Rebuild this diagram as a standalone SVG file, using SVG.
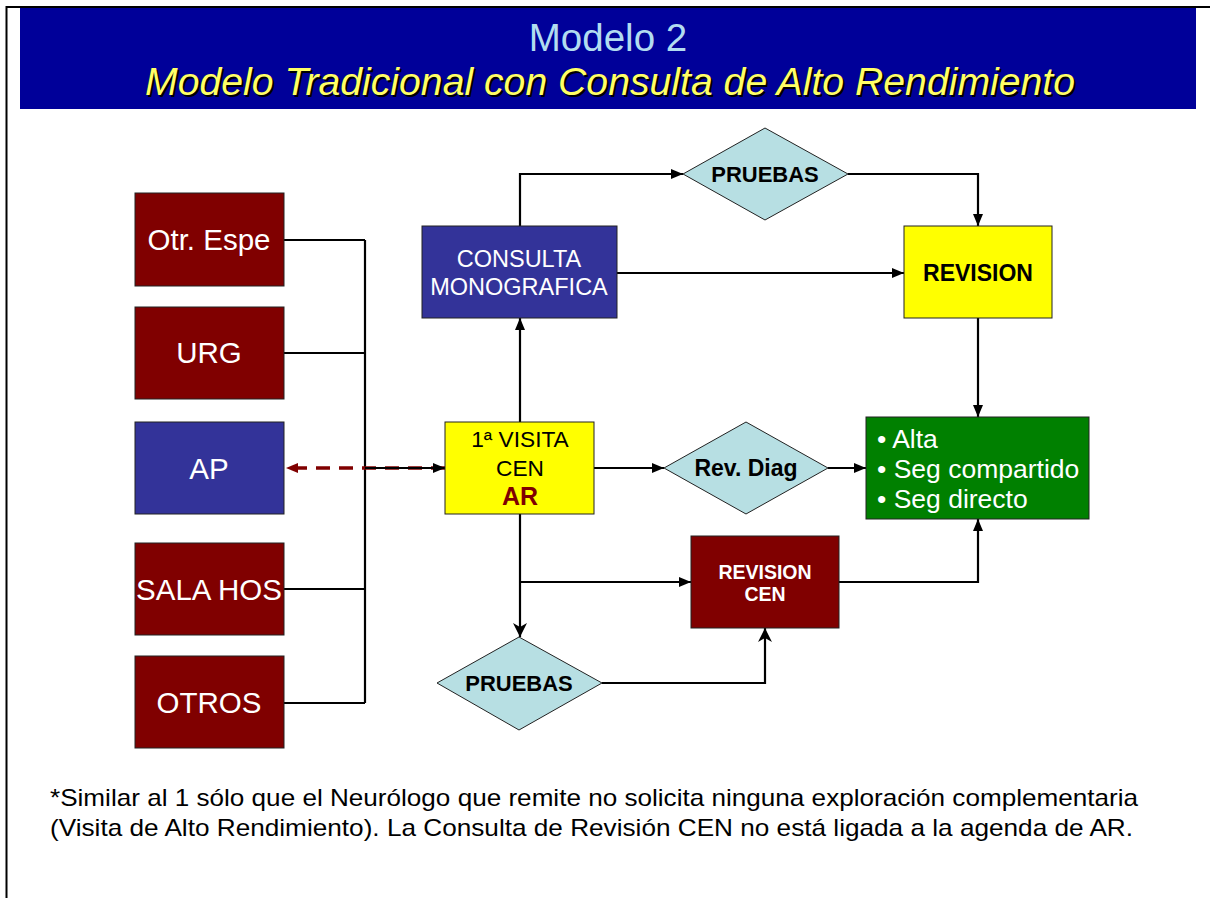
<svg xmlns="http://www.w3.org/2000/svg" width="1210" height="898" viewBox="0 0 1210 898">
<style>
text{font-family:"Liberation Sans",Arial,sans-serif}
.box{stroke:#222;stroke-width:1}
.mar{fill:#800000}
.blu{fill:#333399}
.yel{fill:#FFFF00}
.grn{fill:#008000}
.dia{fill:#B7DFE3;stroke:#222;stroke-width:1}
.wl{fill:#fff;font-size:29.5px;text-anchor:middle}
.wm{fill:#fff;font-size:23.5px;text-anchor:middle}
.bk{fill:#000;font-size:23px;font-weight:bold;text-anchor:middle}
.g{fill:#fff;font-size:26.5px}
.c{fill:none;stroke:#000;stroke-width:2.2}
.ca{fill:none;stroke:#000;stroke-width:2.2;marker-end:url(#ah)}
.cs{fill:none;stroke:#000;stroke-width:2.2;marker-end:url(#st)}
</style>
<defs>
<marker id="ah" markerUnits="userSpaceOnUse" markerWidth="12" markerHeight="10" refX="12" refY="5" orient="auto"><path d="M0,0 L12,5 L0,10 z" fill="#000"/></marker>
<marker id="st" markerUnits="userSpaceOnUse" markerWidth="14" markerHeight="14" refX="14" refY="7" orient="auto"><path d="M0,0 L14,7 L0,14 L4,7 z" fill="#000"/></marker>
<marker id="ar" markerUnits="userSpaceOnUse" markerWidth="12" markerHeight="10" refX="12" refY="5" orient="auto"><path d="M0,0 L12,5 L0,10 z" fill="#800000"/></marker>
</defs>
<rect width="1210" height="898" fill="#fff"/>
<path d="M6.5,898 V7 H1210" fill="none" stroke="#000" stroke-width="2"/>
<g id="header">
<rect x="20" y="8" width="1176" height="101" fill="#000099"/>
<text x="608" y="51" font-size="38.5" fill="#B2DCF0" text-anchor="middle">Modelo 2</text>
<text x="612" y="97" font-size="39" font-style="italic" fill="#000" text-anchor="middle" textLength="930" lengthAdjust="spacingAndGlyphs">Modelo Tradicional con Consulta de Alto Rendimiento</text>
<text x="610" y="95" font-size="39" font-style="italic" fill="#FFFF66" text-anchor="middle" textLength="930" lengthAdjust="spacingAndGlyphs">Modelo Tradicional con Consulta de Alto Rendimiento</text>
</g>
<g id="connectors">
<path class="c" d="M284,240 H365 M284,353 H365 M284,589 H365 M284,703 H365 M365,240 V703"/>
<line x1="445" y1="468" x2="286" y2="468" stroke="#800000" stroke-width="3.5" stroke-dasharray="14,9" marker-end="url(#ar)"/>
<path class="ca" d="M365,468 H445"/>
<path class="ca" d="M520,422 V318"/>
<path class="ca" d="M520,226 V174 H683"/>
<path class="ca" d="M848,174 H978 V226"/>
<path class="ca" d="M617,273 H904"/>
<path class="ca" d="M978,318 V417"/>
<path class="ca" d="M594,468 H664"/>
<path class="ca" d="M828,468 H866"/>
<path class="cs" d="M520,514 V637"/>
<path class="ca" d="M520,582 H691"/>
<path class="cs" d="M602,683 H765 V628"/>
<path class="ca" d="M839,582 H978 V519"/>
</g>
<g id="otr-espe"><rect class="box mar" x="135" y="193" width="149" height="93"/><text class="wl" x="209" y="250">Otr. Espe</text></g>
<g id="urg"><rect class="box mar" x="135" y="307" width="149" height="92"/><text class="wl" x="209" y="363">URG</text></g>
<g id="ap"><rect class="box blu" x="135" y="422" width="149" height="92"/><text class="wl" x="209" y="479">AP</text></g>
<g id="sala-hos"><rect class="box mar" x="135" y="543" width="149" height="92"/><text class="wl" x="209" y="600">SALA HOS</text></g>
<g id="otros"><rect class="box mar" x="135" y="656" width="149" height="92"/><text class="wl" x="209" y="713">OTROS</text></g>
<g id="consulta"><rect class="box blu" x="422" y="226" width="195" height="92"/><text class="wm" x="519" y="267">CONSULTA</text><text class="wm" x="519" y="295">MONOGRAFICA</text></g>
<g id="pruebas-top"><polygon class="dia" points="683,174 765,128 848,174 765,220"/><text class="bk" x="765" y="182" style="font-size:22px">PRUEBAS</text></g>
<g id="revision"><rect class="box yel" x="904" y="226" width="148" height="92"/><text class="bk" x="978" y="281">REVISION</text></g>
<g id="visita"><rect class="box yel" x="445" y="422" width="149" height="92"/><text x="520" y="447" font-size="22.7" text-anchor="middle" fill="#000">1ª VISITA</text><text x="520" y="476" font-size="22.7" text-anchor="middle" fill="#000">CEN</text><text x="520" y="505" font-size="25" font-weight="bold" text-anchor="middle" fill="#800000">AR</text></g>
<g id="rev-diag"><polygon class="dia" points="664,468 746,422 828,468 746,514"/><text class="bk" x="746" y="476">Rev. Diag</text></g>
<g id="resultado"><rect class="box grn" x="866" y="417" width="223" height="102"/>
<text class="g" x="877" y="448">• Alta</text>
<text class="g" x="877" y="478">• Seg compartido</text>
<text class="g" x="877" y="508">• Seg directo</text></g>
<g id="revision-cen"><rect class="box mar" x="691" y="536" width="148" height="92"/><text x="765" y="579" font-size="19.5" font-weight="bold" fill="#fff" text-anchor="middle">REVISION</text><text x="765" y="601" font-size="19.5" font-weight="bold" fill="#fff" text-anchor="middle">CEN</text></g>
<g id="pruebas-bottom"><polygon class="dia" points="437,683 519,637 602,683 519,730"/><text class="bk" x="519" y="691" style="font-size:22px">PRUEBAS</text></g>
<g id="nota">
<text x="50" y="806" font-size="24" fill="#000" textLength="1088" lengthAdjust="spacingAndGlyphs">*Similar al 1 sólo que el Neurólogo que remite no solicita ninguna exploración complementaria</text>
<text x="50" y="836" font-size="24" fill="#000" textLength="1083" lengthAdjust="spacingAndGlyphs">(Visita de Alto Rendimiento). La Consulta de Revisión CEN no está ligada a la agenda de AR.</text>
</g>
</svg>
